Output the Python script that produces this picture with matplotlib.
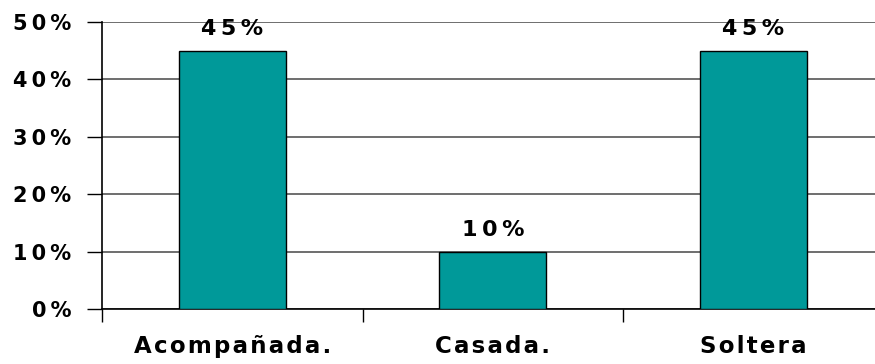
import numpy as np
import matplotlib.pyplot as plt
from matplotlib.ticker import FuncFormatter

categories = ['Acompañada.', 'Casada.', 'Soltera']
values = [45, 10, 45]

plt.rcParams['font.family'] = ['DejaVu Sans']
plt.rcParams['font.weight'] = 'bold'

THIN = '\u2009'
HAIR = '\u200a'

def spaced(s, sep):
    # the original text is drawn wide, so pad the letters a little
    return sep.join(s)

fig = plt.figure(figsize=(8.75, 3.64), dpi=100)
# axes run slightly past the right edge, as in the original
ax = fig.add_axes([102/875, 1-309/364, 781.5/875, 287/364])

x = np.arange(len(categories))
ax.bar(x, values, width=0.41, color='#009999', edgecolor='black', linewidth=1, zorder=3)

for xi, v in zip(x, values):
    ax.text(xi, v + 2.8, spaced('%d%%' % v, THIN), ha='center', va='baseline',
            fontsize=16, fontweight='bold')

ax.set_xlim(-0.5, len(categories) - 0.5)
ax.set_ylim(0, 50)
ax.set_yticks(np.arange(0, 51, 10))
ax.yaxis.set_major_formatter(FuncFormatter(lambda v, p: spaced('%d%%' % v, THIN)))
ax.grid(axis='y', color='#555555', linewidth=1.2, zorder=0)

# category labels in between boundary ticks
ax.set_xticks(x - 0.5, minor=False)
ax.set_xticklabels([])
ax.set_xticks(x, minor=True)
ax.set_xticklabels([spaced(c, HAIR) for c in categories], minor=True)
ax.tick_params(axis='x', which='minor', length=0, pad=19)
ax.tick_params(axis='x', which='major', length=9, width=1, direction='out')
ax.tick_params(axis='y', length=11, width=1, direction='out', pad=11)
for lab in ax.get_xticklabels(minor=True):
    lab.set_fontsize(16.5)
    lab.set_fontweight('bold')
for lab in ax.get_yticklabels():
    lab.set_fontsize(15)
    lab.set_fontweight('bold')

ax.spines['top'].set_visible(False)
ax.spines['right'].set_visible(False)
ax.spines['left'].set_linewidth(1.2)
ax.spines['bottom'].set_linewidth(1.2)

fig.savefig('out.png', dpi=100)
